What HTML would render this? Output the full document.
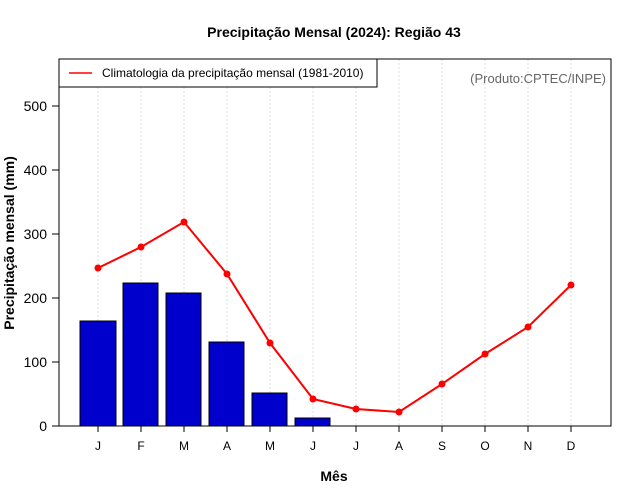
<!DOCTYPE html>
<html><head><meta charset="utf-8"><style>body{margin:0;background:#fff}svg{display:block}</style></head><body>
<svg width="640" height="500" xmlns="http://www.w3.org/2000/svg" font-family="Liberation Sans, sans-serif">
<rect width="640" height="500" fill="#fff"/>
<text x="334" y="37" text-anchor="middle" font-size="14" font-weight="bold">Precipitação Mensal (2024): Região 43</text>
<g stroke="#ddd" stroke-dasharray="2,2" stroke-width="1">
<line x1="98" y1="59" x2="98" y2="426"/><line x1="141" y1="59" x2="141" y2="426"/><line x1="184" y1="59" x2="184" y2="426"/><line x1="227" y1="59" x2="227" y2="426"/><line x1="270" y1="59" x2="270" y2="426"/><line x1="313" y1="59" x2="313" y2="426"/><line x1="356" y1="59" x2="356" y2="426"/><line x1="399" y1="59" x2="399" y2="426"/><line x1="442" y1="59" x2="442" y2="426"/><line x1="485" y1="59" x2="485" y2="426"/><line x1="528" y1="59" x2="528" y2="426"/><line x1="571" y1="59" x2="571" y2="426"/>
</g>
<g fill="#0000cd" stroke="#000" stroke-width="1">
<rect x="80" y="321" width="36" height="105"/><rect x="123" y="283" width="35" height="143"/><rect x="166" y="293" width="35" height="133"/><rect x="209" y="342" width="35" height="84"/><rect x="252" y="393" width="35" height="33"/><rect x="295" y="418" width="35" height="8"/>
</g>
<polyline fill="none" stroke="#f00" stroke-width="2" points="98,268 141,247 184,222 227,274 270,343 313,399 356,409 399,412 442,384 485,354 528,327 571,285"/>
<g fill="#f00">
<circle cx="98" cy="268" r="3.5"/><circle cx="141" cy="247" r="3.5"/><circle cx="184" cy="222" r="3.5"/><circle cx="227" cy="274" r="3.5"/><circle cx="270" cy="343" r="3.5"/><circle cx="313" cy="399" r="3.5"/><circle cx="356" cy="409" r="3.5"/><circle cx="399" cy="412" r="3.5"/><circle cx="442" cy="384" r="3.5"/><circle cx="485" cy="354" r="3.5"/><circle cx="528" cy="327" r="3.5"/><circle cx="571" cy="285" r="3.5"/>
</g>
<rect x="59" y="59" width="552" height="367" fill="none" stroke="#000"/>
<rect x="59" y="59" width="318" height="28" fill="#fff" stroke="#000"/>
<line x1="69" y1="73" x2="92" y2="73" stroke="#f00" stroke-width="1.5"/>
<text x="102" y="77" font-size="12">Climatologia da precipitação mensal (1981-2010)</text>
<text x="606" y="83" text-anchor="end" font-size="13" fill="#666">(Produto:CPTEC/INPE)</text>
<g stroke="#000">
<line x1="52" y1="106" x2="59" y2="106"/><line x1="52" y1="170" x2="59" y2="170"/><line x1="52" y1="234" x2="59" y2="234"/><line x1="52" y1="298" x2="59" y2="298"/><line x1="52" y1="362" x2="59" y2="362"/><line x1="52" y1="426" x2="59" y2="426"/>
</g>
<g font-size="14" text-anchor="end">
<text x="47" y="111">500</text><text x="47" y="175">400</text><text x="47" y="239">300</text><text x="47" y="303">200</text><text x="47" y="367">100</text><text x="47" y="431">0</text>
</g>
<g stroke="#000">
<line x1="98" y1="426" x2="98" y2="432"/><line x1="141" y1="426" x2="141" y2="432"/><line x1="184" y1="426" x2="184" y2="432"/><line x1="227" y1="426" x2="227" y2="432"/><line x1="270" y1="426" x2="270" y2="432"/><line x1="313" y1="426" x2="313" y2="432"/><line x1="356" y1="426" x2="356" y2="432"/><line x1="399" y1="426" x2="399" y2="432"/><line x1="442" y1="426" x2="442" y2="432"/><line x1="485" y1="426" x2="485" y2="432"/><line x1="528" y1="426" x2="528" y2="432"/><line x1="571" y1="426" x2="571" y2="432"/>
</g>
<g font-size="12" text-anchor="middle">
<text x="98" y="450">J</text><text x="141" y="450">F</text><text x="184" y="450">M</text><text x="227" y="450">A</text><text x="270" y="450">M</text><text x="313" y="450">J</text><text x="356" y="450">J</text><text x="399" y="450">A</text><text x="442" y="450">S</text><text x="485" y="450">O</text><text x="528" y="450">N</text><text x="571" y="450">D</text>
</g>
<text x="334" y="481" text-anchor="middle" font-size="14" font-weight="bold">Mês</text>
<text transform="translate(14,243) rotate(-90)" text-anchor="middle" font-size="14" font-weight="bold">Precipitação mensal (mm)</text>
</svg>
</body></html>
